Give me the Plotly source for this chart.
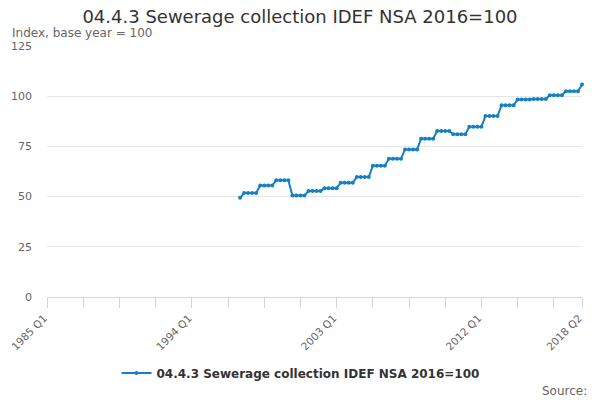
import plotly.graph_objects as go

# Quarter categories for the whole axis, 1985 Q1 .. 2018 Q2
quarters = []
for year in range(1985, 2019):
    for q in range(1, 5):
        quarters.append(f"{year} Q{q}")
quarters = quarters[:quarters.index("2018 Q2") + 1]

# Series starts in 1997 Q1
series_start = "1997 Q1"
values = [
    49.4,
    51.8, 51.8, 51.8, 51.8,
    55.5, 55.5, 55.5, 55.5,
    58.1, 58.1, 58.1, 58.1,
    50.5, 50.5, 50.5, 50.5,
    52.8, 52.8, 52.8, 52.8,
    54.1, 54.1, 54.1, 54.1,
    56.9, 56.9, 56.9, 56.9,
    59.7, 59.7, 59.7, 59.7,
    65.4, 65.4, 65.4, 65.4,
    68.8, 68.8, 68.8, 68.8,
    73.5, 73.5, 73.5, 73.5,
    78.8, 78.8, 78.8, 78.8,
    82.7, 82.7, 82.7, 82.7,
    81.1, 81.1, 81.1, 81.1,
    84.8, 84.8, 84.8, 84.8,
    90.1, 90.1, 90.1, 90.1,
    95.5, 95.5, 95.5, 95.5,
    98.3, 98.3, 98.3, 98.3,
    98.6, 98.6, 98.6, 98.6,
    100.5, 100.5, 100.5, 100.5,
    102.5, 102.5, 102.5, 102.5,
    105.8,
]
start = quarters.index(series_start)
x_data = quarters[start:start + len(values)]

labelled_ticks = ["1985 Q1", "1994 Q1", "2003 Q1", "2012 Q1", "2018 Q2"]
tick_positions = quarters[::9] + ["2018 Q2"]
tick_text = [t if t in labelled_ticks else "" for t in tick_positions]

series_name = "04.4.3 Sewerage collection IDEF NSA 2016=100"
line_color = "#1580c5"

fig = go.Figure()
fig.add_trace(go.Scatter(
    x=x_data, y=values, mode="lines+markers", name=series_name,
    line=dict(color=line_color, width=2),
    marker=dict(color=line_color, size=4),
    cliponaxis=False,
))

fig.update_layout(
    width=600, height=400,
    margin=dict(l=47, r=18, t=46, b=103),
    paper_bgcolor="white", plot_bgcolor="white",
    font=dict(family="DejaVu Sans", color="#666666"),
    title=dict(text=series_name, x=0.5, xanchor="center", y=1 - 17 / 400, yanchor="middle",
               font=dict(size=18, color="#333333")),
    showlegend=True,
    legend=dict(orientation="h", x=0.5 - 14 / 535, xanchor="center", y=(297 - 373) / 251,
                yanchor="middle", itemwidth=30,
                font=dict(size=12, color="#333333", weight="bold")),
    annotations=[
        dict(text="Index, base year = 100", xref="paper", yref="paper",
             x=-37 / 535, y=(297 - 33) / 251, xanchor="left", yanchor="middle",
             showarrow=False, font=dict(size=12, color="#666666")),
        dict(text="Source:", xref="paper", yref="paper",
             x=(589 - 47) / 535, y=(297 - 391) / 251, xanchor="right", yanchor="middle",
             showarrow=False, font=dict(size=12, color="#666666")),
    ],
)

fig.update_xaxes(
    type="category", categoryorder="array", categoryarray=quarters,
    range=[0, len(quarters) - 1], automargin=False,
    tickmode="array", tickvals=tick_positions, ticktext=tick_text,
    tickangle=-45, ticks="outside", ticklen=10, tickcolor="#ccd6eb",
    showline=True, linecolor="#ccd6eb", showgrid=False,
    ticklabelshift=-3,
    tickfont=dict(size=10.5, color="#666666"),
)
fig.update_yaxes(
    range=[0, 125], dtick=25, showgrid=True, gridcolor="#e6e6e6",
    zeroline=False, automargin=False, ticklabelstandoff=14,
    tickfont=dict(size=11, color="#666666"),
)

fig.write_html("out.html", config={"displayModeBar": False},
               post_script="document.body.style.margin='0';")
